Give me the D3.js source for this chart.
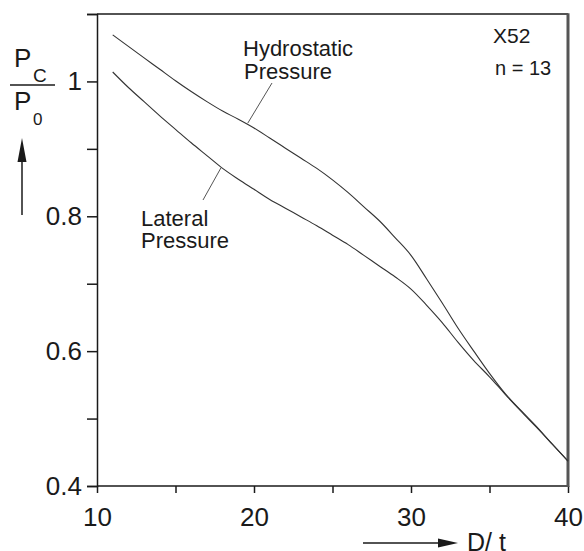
<!DOCTYPE html>
<html>
<head>
<meta charset="utf-8">
<script src="https://cdn.jsdelivr.net/npm/d3@7"></script>
<style>
  body { margin: 0; background: #fff; }
  svg { display: block; font-family: "Liberation Sans", Arial, Helvetica, sans-serif; }
</style>
</head>
<body>
<svg id="chart" width="584" height="551"></svg>
<script>
// D/t values and collapse ratio Pc/P0
const dtValues = [11, 12, 13, 14, 15, 16, 17, 18, 19, 20, 21, 22, 23, 24, 25,
                  26, 27, 28, 29, 30, 31, 32, 33, 34, 35, 36, 37, 38, 39, 40];
const hydrostatic = [1.069, 1.052, 1.035, 1.018, 1.001, 0.985, 0.970, 0.956, 0.944, 0.931,
                     0.916, 0.901, 0.886, 0.871, 0.854, 0.835, 0.814, 0.793, 0.768, 0.742,
                     0.707, 0.671, 0.634, 0.600, 0.567, 0.537, 0.512, 0.488, 0.462, 0.437];
const lateral = [1.014, 0.991, 0.970, 0.949, 0.929, 0.909, 0.890, 0.871, 0.855, 0.840,
                 0.825, 0.812, 0.799, 0.786, 0.772, 0.758, 0.742, 0.726, 0.710, 0.692,
                 0.668, 0.642, 0.613, 0.586, 0.562, 0.536, 0.511, 0.487, 0.462, 0.437];
const xTicks = [10, 15, 20, 25, 30, 35, 40];
const xLabels = [10, 20, 30, 40];
const yTicks = [0.4, 0.5, 0.6, 0.7, 0.8, 0.9, 1.0, 1.1];
const yLabels = [0.4, 0.6, 0.8, 1.0];

const svg = d3.select("#chart");
const plotLeft = 97, plotRight = 568, plotTop = 14, plotBottom = 486;
const ink = "#1a1a1a";

const x = d3.scaleLinear().domain([10, 40]).range([plotLeft, plotRight]);
const y = d3.scaleLinear().domain([0.4, 1.1]).range([plotBottom, plotTop]);

// y axis, ticks out to the left; 0.4 and 1.1 ticks run into the frame lines
const yAxis = svg.append("g")
  .attr("transform", `translate(${plotLeft},0)`)
  .call(d3.axisLeft(y).tickValues(yTicks).tickSize(10).tickPadding(5)
    .tickFormat(d => yLabels.some(v => Math.abs(v - d) < 1e-6) ? d3.format("~g")(d) : ""));
yAxis.selectAll("path, line").attr("stroke", ink).attr("stroke-width", 1.5);
yAxis.selectAll("text").attr("font-size", 26).attr("fill", ink).attr("font-family", null);

// x axis, ticks downward
const xAxis = svg.append("g")
  .attr("transform", `translate(0,${plotBottom})`)
  .call(d3.axisBottom(x).tickValues(xTicks).tickSize(7)
    .tickFormat(d => xLabels.includes(d) ? d : ""));
xAxis.selectAll("path, line").attr("stroke", ink).attr("stroke-width", 1.5);
xAxis.selectAll("text").attr("font-size", 26).attr("fill", ink).attr("font-family", null)
  .attr("y", 21.5);
xAxis.select(".domain").attr("d", `M${plotLeft},0H${plotRight}`);

// top frame line and heavier grey right edge
svg.append("line")
  .attr("x1", x(10)).attr("x2", x(40)).attr("y1", y(1.1)).attr("y2", y(1.1))
  .attr("stroke", ink).attr("stroke-width", 1.5);
svg.append("line")
  .attr("x1", x(40)).attr("x2", x(40)).attr("y1", y(1.1) - 0.75).attr("y2", y(0.4) + 1)
  .attr("stroke", "#555").attr("stroke-width", 3);

// curves
const line = d3.line()
  .x((d, i) => x(dtValues[i]))
  .y(d => y(d))
  .curve(d3.curveMonotoneX);

[hydrostatic, lateral].forEach(series => {
  svg.append("path")
    .datum(series)
    .attr("fill", "none")
    .attr("stroke", "#333")
    .attr("stroke-width", 1.1)
    .attr("d", line);
});

// curve labels with leader lines
const labelFont = 22;
svg.append("text").attr("x", 243).attr("y", 56).attr("font-size", labelFont).attr("fill", ink).text("Hydrostatic");
svg.append("text").attr("x", 244).attr("y", 79).attr("font-size", labelFont).attr("fill", ink).text("Pressure");
svg.append("text").attr("x", 141).attr("y", 226).attr("font-size", labelFont).attr("fill", ink).text("Lateral");
svg.append("text").attr("x", 141).attr("y", 248).attr("font-size", labelFont).attr("fill", ink).text("Pressure");

svg.append("line").attr("x1", 272).attr("y1", 83).attr("x2", x(19.6)).attr("y2", y(0.938))
  .attr("stroke", "#555").attr("stroke-width", 1);
svg.append("line").attr("x1", 203).attr("y1", 200).attr("x2", x(17.9)).attr("y2", y(0.872))
  .attr("stroke", "#555").attr("stroke-width", 1);

// annotation top right
svg.append("text").attr("x", 493).attr("y", 43).attr("font-size", 21).attr("fill", ink).text("X52");
svg.append("text").attr("x", 495).attr("y", 75).attr("font-size", 20).attr("fill", ink).text("n = 13");

// y title: Pc / P0 with an upward arrow
svg.append("text").attr("x", 14).attr("y", 67).attr("font-size", 26).attr("fill", ink).text("P");
svg.append("text").attr("x", 33).attr("y", 82).attr("font-size", 19).attr("fill", ink).text("C");
svg.append("line").attr("x1", 10).attr("x2", 55).attr("y1", 85).attr("y2", 85)
  .attr("stroke", ink).attr("stroke-width", 1.5);
svg.append("text").attr("x", 14).attr("y", 110).attr("font-size", 26).attr("fill", ink).text("P");
svg.append("text").attr("x", 33).attr("y", 125).attr("font-size", 17).attr("fill", ink).text("0");

svg.append("line").attr("x1", 22).attr("x2", 22).attr("y1", 215).attr("y2", 158)
  .attr("stroke", ink).attr("stroke-width", 1.5);
svg.append("path").attr("d", "M22,138L17.5,162L26.5,162Z").attr("fill", ink);

// x title: arrow then D/ t
svg.append("line").attr("x1", 363).attr("x2", 444).attr("y1", 543).attr("y2", 543)
  .attr("stroke", ink).attr("stroke-width", 1.5);
svg.append("path").attr("d", "M458,543L438,538.5L438,547.5Z").attr("fill", ink);
svg.append("text").attr("x", 467).attr("y", 551).attr("font-size", 25).attr("fill", ink).text("D/ t");
</script>
</body>
</html>
